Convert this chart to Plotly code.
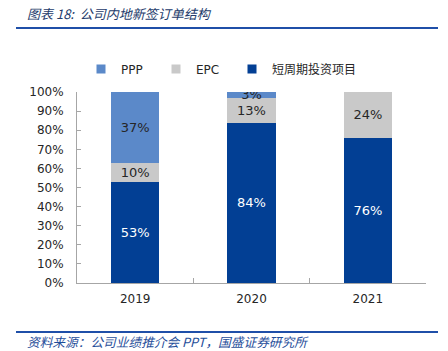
import plotly.graph_objects as go

years = ["2019", "2020", "2021"]
short_cycle = [53, 84, 76]
epc = [10, 13, 24]
ppp = [37, 3, 0]
y_ticks = [0, 10, 20, 30, 40, 50, 60, 70, 80, 90, 100]
y_tick_text = [f"{v}%" for v in y_ticks]

FONT = "DejaVu Sans"
CJK = "Noto Sans CJK SC"
C_SHORT, C_EPC, C_PPP = "#023F94", "#C9C9C9", "#5B89C9"

def labels(vals):
    return [f"{v}%" if v > 0 else "" for v in vals]

fig = go.Figure()
for name, vals, col, tcol in [("短周期投资项目", short_cycle, C_SHORT, "white"),
                              ("EPC", epc, C_EPC, "#262626"),
                              ("PPP", ppp, C_PPP, "#262626")]:
    fig.add_bar(x=years, y=vals, name=name, marker_color=col, marker_line_width=0,
                text=labels(vals), textposition="inside", insidetextanchor="middle",
                textfont=dict(color=tcol, size=13, family=FONT), showlegend=False,
                hoverinfo="skip")

# legend entries (one legend each, so they can be placed like the original)
for name, col, leg in [("PPP", C_PPP, "legend"), ("EPC", C_EPC, "legend2"),
                       ("短周期投资项目", C_SHORT, "legend3")]:
    fig.add_scatter(x=[None], y=[None], mode="markers", name=name, legend=leg,
                    marker=dict(symbol="square", size=9, color=col), hoverinfo="skip")

def leg(xpx):
    return dict(orientation="h", x=(xpx - 77) / 349, y=(283 - 69) / 191,
                xanchor="left", yanchor="middle", itemwidth=30, itemclick=False,
                font=dict(family=f"{FONT}, {CJK}", size=12, color="#262626"),
                bgcolor="rgba(0,0,0,0)")

fig.update_layout(
    width=448, height=351,
    barmode="stack", bargap=0.586,
    margin=dict(l=77, r=22, t=92, b=68),
    paper_bgcolor="white", plot_bgcolor="white",
    font=dict(family=FONT, size=12, color="#262626"),
    uniformtext=dict(minsize=13, mode="show"),
    showlegend=True,
    legend=leg(81), legend2=leg(156), legend3=leg(232),
    xaxis=dict(showline=True, linecolor="#A6A6A6", linewidth=1, ticks="inside",
               tickson="boundaries", ticklen=5, tickcolor="#A6A6A6",
               ticklabelstandoff=5,
               tickfont=dict(size=12, color="#262626"), showgrid=False),
    yaxis=dict(range=[0, 100], tickvals=y_ticks, ticktext=y_tick_text, showline=True,
               linecolor="#A6A6A6", linewidth=1, ticks="inside", ticklen=4,
               ticklabelstandoff=10,
               tickcolor="#A6A6A6", showgrid=False, zeroline=False,
               tickfont=dict(size=12, color="#262626")),
)

# header / footer
fig.add_annotation(text="<i>图表 18:  公司内地新签订单结构</i>", xref="paper", yref="paper",
                   x=(25 - 77) / 349, y=(283 - 14) / 191, xanchor="left", yanchor="middle",
                   showarrow=False, font=dict(family=CJK, size=13, color="#243B6B"))
fig.add_annotation(text="<i>资料来源：公司业绩推介会 PPT，国盛证券研究所</i>", xref="paper", yref="paper",
                   x=(25 - 77) / 349, y=(283 - 341) / 191, xanchor="left", yanchor="middle",
                   showarrow=False, font=dict(family=CJK, size=12.7, color="#1F4E9A"))
fig.add_shape(type="line", xref="paper", yref="paper", x0=(16 - 77) / 349, x1=(438 - 77) / 349,
              y0=(283 - 28) / 191, y1=(283 - 28) / 191, line=dict(color="#1F4FA8", width=2))
fig.add_shape(type="line", xref="paper", yref="paper", x0=(16 - 77) / 349, x1=(438 - 77) / 349,
              y0=(283 - 332) / 191, y1=(283 - 332) / 191, line=dict(color="#1F4FA8", width=2))

fig.write_html("out.html")
